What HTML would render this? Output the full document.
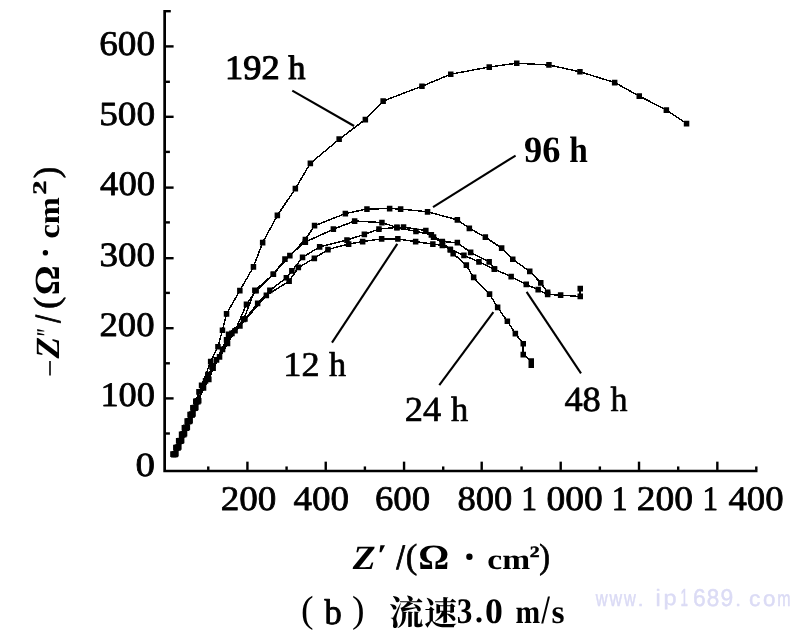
<!DOCTYPE html>
<html>
<head>
<meta charset="utf-8">
<title>Nyquist plot (b) 3.0 m/s</title>
<style>
html,body{margin:0;padding:0;background:#fff;}
body{width:800px;height:638px;overflow:hidden;font-family:"Liberation Serif",serif;}
svg{display:block;will-change:transform;}
svg text{font-kerning:none;white-space:pre;}
</style>
</head>
<body>
<svg width="800" height="638" viewBox="0 0 800 638" shape-rendering="geometricPrecision" text-rendering="geometricPrecision">
<rect width="800" height="638" fill="#fff"/>
<g stroke="#000" stroke-width="2.7" fill="none" stroke-linecap="butt">
<path d="M164.65 10.00 V471.00 H757.50"/>
</g>
<g stroke="#000" stroke-width="2.4" fill="none">
<path d="M165.70 433.50 h4.20"/>
<path d="M165.70 398.40 h7.90"/>
<path d="M165.70 363.30 h4.20"/>
<path d="M165.70 328.20 h7.90"/>
<path d="M165.70 292.90 h4.20"/>
<path d="M165.70 258.20 h7.90"/>
<path d="M165.70 222.40 h4.20"/>
<path d="M165.70 187.60 h7.90"/>
<path d="M165.70 151.90 h4.20"/>
<path d="M165.70 116.80 h7.90"/>
<path d="M165.70 81.80 h4.20"/>
<path d="M165.70 46.40 h7.90"/>
<path d="M165.70 11.20 h5.10"/>
<path d="M208.26 469.95 v-3.50"/>
<path d="M247.42 469.95 v-8.30"/>
<path d="M286.58 469.95 v-3.50"/>
<path d="M325.74 469.95 v-8.30"/>
<path d="M364.90 469.95 v-3.50"/>
<path d="M404.06 469.95 v-8.30"/>
<path d="M443.22 469.95 v-3.50"/>
<path d="M481.70 469.95 v-8.30"/>
<path d="M521.54 469.95 v-3.50"/>
<path d="M560.70 469.95 v-8.30"/>
<path d="M599.86 469.95 v-3.50"/>
<path d="M639.02 469.95 v-8.30"/>
<path d="M678.18 469.95 v-3.50"/>
<path d="M717.34 469.95 v-8.30"/>
<path d="M756.30 469.95 v-3.50"/>
</g>
<text transform="matrix(0.37211 0 0 0.34677 99.201 55.161)" font-family="Liberation Serif" font-size="100" stroke="#000" stroke-width="2.226" stroke-linejoin="round" fill="#000" >600</text>
<text transform="matrix(0.37256 0 0 0.33788 99.135 124.770)" font-family="Liberation Serif" font-size="100" stroke="#000" stroke-width="2.252" stroke-linejoin="round" fill="#000" >500</text>
<text transform="matrix(0.36606 0 0 0.34380 100.085 195.464)" font-family="Liberation Serif" font-size="100" stroke="#000" stroke-width="2.254" stroke-linejoin="round" fill="#000" >400</text>
<text transform="matrix(0.36986 0 0 0.33936 99.530 266.469)" font-family="Liberation Serif" font-size="100" stroke="#000" stroke-width="2.256" stroke-linejoin="round" fill="#000" >300</text>
<text transform="matrix(0.36743 0 0 0.34232 99.485 335.766)" font-family="Liberation Serif" font-size="100" stroke="#000" stroke-width="2.254" stroke-linejoin="round" fill="#000" >200</text>
<text transform="matrix(0.36317 0 0 0.34380 100.408 406.064)" font-family="Liberation Serif" font-size="100" stroke="#000" stroke-width="2.263" stroke-linejoin="round" fill="#000" >100</text>
<text transform="matrix(0.38931 0 0 0.33788 135.517 476.270)" font-family="Liberation Serif" font-size="100" stroke="#000" stroke-width="2.200" stroke-linejoin="round" fill="#000" >0</text>
<text transform="matrix(0.37095 0 0 0.34380 220.770 510.064)" font-family="Liberation Serif" font-size="100" stroke="#000" stroke-width="2.239" stroke-linejoin="round" fill="#000" >200</text>
<text transform="matrix(0.37057 0 0 0.34380 293.426 510.064)" font-family="Liberation Serif" font-size="100" stroke="#000" stroke-width="2.240" stroke-linejoin="round" fill="#000" >400</text>
<text transform="matrix(0.36788 0 0 0.34380 374.919 510.064)" font-family="Liberation Serif" font-size="100" stroke="#000" stroke-width="2.248" stroke-linejoin="round" fill="#000" >600</text>
<text transform="matrix(0.36556 0 0 0.34380 457.408 510.064)" font-family="Liberation Serif" font-size="100" stroke="#000" stroke-width="2.256" stroke-linejoin="round" fill="#000" >800</text>
<text transform="matrix(0.31530 0 0 0.34386 521.129 509.900)" font-family="Liberation Serif" font-size="100" stroke="#000" stroke-width="2.427" stroke-linejoin="round" fill="#000" >1</text>
<text transform="matrix(0.37540 0 0 0.34380 546.470 510.064)" font-family="Liberation Serif" font-size="100" stroke="#000" stroke-width="2.225" stroke-linejoin="round" fill="#000" >000</text>
<text transform="matrix(0.31530 0 0 0.34386 611.629 509.900)" font-family="Liberation Serif" font-size="100" stroke="#000" stroke-width="2.427" stroke-linejoin="round" fill="#000" >1</text>
<text transform="matrix(0.37518 0 0 0.34380 636.751 510.064)" font-family="Liberation Serif" font-size="100" stroke="#000" stroke-width="2.225" stroke-linejoin="round" fill="#000" >200</text>
<text transform="matrix(0.31103 0 0 0.34386 702.416 509.900)" font-family="Liberation Serif" font-size="100" stroke="#000" stroke-width="2.443" stroke-linejoin="round" fill="#000" >1</text>
<text transform="matrix(0.36710 0 0 0.34380 728.433 510.064)" font-family="Liberation Serif" font-size="100" stroke="#000" stroke-width="2.251" stroke-linejoin="round" fill="#000" >400</text>
<text transform="matrix(0.36295 0 0 0.34158 225.110 79.416)" font-family="Liberation Serif" font-size="100" stroke="#000" stroke-width="3.123" stroke-linejoin="round" fill="#000" >192</text>
<text transform="matrix(0.34378 0 0 0.34013 288.314 79.450)" font-family="Liberation Serif" font-size="100" stroke="#000" stroke-width="3.217" stroke-linejoin="round" fill="#000" >h</text>
<text transform="matrix(0.36465 0 0 0.37209 524.003 162.137)" font-family="Liberation Serif" font-size="100" font-weight="bold" fill="#000" >96</text>
<text transform="matrix(0.33423 0 0 0.36607 569.168 161.900)" font-family="Liberation Serif" font-size="100" font-weight="bold" fill="#000" >h</text>
<text transform="matrix(0.36292 0 0 0.34737 283.360 376.150)" font-family="Liberation Serif" font-size="100" stroke="#000" stroke-width="1.971" stroke-linejoin="round" fill="#000" >12</text>
<text transform="matrix(0.34168 0 0 0.34590 329.016 376.150)" font-family="Liberation Serif" font-size="100" stroke="#000" stroke-width="2.036" stroke-linejoin="round" fill="#000" >h</text>
<text transform="matrix(0.36473 0 0 0.35191 404.747 421.150)" font-family="Liberation Serif" font-size="100" stroke="#000" stroke-width="1.954" stroke-linejoin="round" fill="#000" >24</text>
<text transform="matrix(0.34378 0 0 0.35022 451.014 421.150)" font-family="Liberation Serif" font-size="100" stroke="#000" stroke-width="2.017" stroke-linejoin="round" fill="#000" >h</text>
<text transform="matrix(0.36397 0 0 0.35269 564.389 410.706)" font-family="Liberation Serif" font-size="100" stroke="#000" stroke-width="1.953" stroke-linejoin="round" fill="#000" >48</text>
<text transform="matrix(0.33959 0 0 0.35022 610.618 410.650)" font-family="Liberation Serif" font-size="100" stroke="#000" stroke-width="2.030" stroke-linejoin="round" fill="#000" >h</text>
<g stroke="#000" stroke-width="2.1" fill="none" stroke-linecap="butt">
<path d="M292.30 90.60 L354.10 126.00"/>
<path d="M515.60 155.60 L433.00 207.10"/>
<path d="M397.30 243.80 L332.00 342.60"/>
<path d="M493.40 312.20 L439.30 385.10"/>
<path d="M526.60 291.80 L581.00 373.30"/>
</g>
<g stroke="#000" stroke-width="1.45" fill="none" stroke-linejoin="round" shape-rendering="crispEdges">
<path d="M173.0 454.2 L175.8 447.6 L178.7 441.0 L181.5 434.4 L184.4 427.8 L187.2 421.2 L190.0 414.6 L192.9 408.0 L195.7 401.4 L201.6 385.5 L210.7 361.6 L218.0 346.8 L222.4 330.3 L226.5 314.0 L239.8 290.7 L253.4 267.0 L262.7 242.5 L277.4 215.4 L295.3 188.7 L310.3 163.3 L339.2 139.2 L365.3 119.5 L383.2 101.0 L422.0 86.2 L450.8 74.2 L489.2 67.0 L516.8 63.2 L549.0 65.0 L580.0 71.8 L614.6 82.5 L639.2 96.0 L666.4 110.0 L686.5 123.5"/>
<path d="M173.8 454.7 L176.6 448.1 L179.4 441.5 L182.3 434.9 L185.1 428.3 L187.9 421.7 L190.8 415.1 L193.6 408.5 L196.5 401.9 L199.0 392.0 L207.8 374.6 L219.6 357.0 L228.5 334.5 L243.6 319.5 L254.8 290.5 L273.3 274.3 L289.8 255.5 L305.4 239.5 L314.5 225.7 L345.4 213.6 L367.0 209.0 L389.6 208.6 L400.6 209.0 L427.5 211.8 L457.4 219.8 L469.4 228.3 L485.3 237.2 L501.7 248.1 L512.7 259.3 L529.8 271.5 L540.8 282.9 L547.6 292.4"/>
<path d="M174.5 453.8 L177.3 447.2 L180.2 440.6 L183.0 434.0 L185.9 427.4 L188.7 420.8 L191.5 414.2 L194.4 407.6 L197.2 401.0 L208.8 379.5 L213.2 368.3 L227.6 343.5 L235.1 330.8 L246.4 304.4 L256.1 290.8 L273.3 274.3 L285.0 259.2 L305.4 242.0 L333.4 229.2 L354.6 221.0 L382.0 222.6 L397.0 227.5 L416.0 231.4 L431.4 234.8 L442.3 241.5 L457.3 242.7 L470.7 252.4 L489.2 262.0 L494.5 269.2 L511.1 276.6 L526.2 284.5 L538.1 289.7 L547.6 294.5 L560.6 295.1 L580.2 296.5 L580.2 288.6"/>
<path d="M175.2 454.5 L178.1 447.9 L180.9 441.3 L183.8 434.7 L186.6 428.1 L189.4 421.5 L192.3 414.9 L195.1 408.3 L198.0 401.7 L203.5 388.0 L212.0 367.0 L222.5 349.5 L232.0 333.5 L245.0 319.0 L257.7 303.5 L269.9 290.4 L286.4 277.8 L291.9 270.9 L302.5 257.4 L319.6 246.9 L347.0 240.0 L364.4 234.4 L379.0 229.0 L397.0 227.4 L403.5 227.2 L425.8 230.5 L433.5 237.0 L442.5 243.0 L450.3 249.5 L453.2 253.6 L466.3 265.2 L473.6 277.5 L489.5 294.1 L497.7 307.5 L507.3 321.3 L515.4 333.6 L523.2 343.8 L523.2 354.6 L531.3 361.1 L531.3 365.2"/>
<path d="M176.0 453.6 L178.8 447.0 L181.7 440.4 L184.5 433.8 L187.4 427.2 L190.2 420.6 L193.0 414.0 L195.9 407.4 L198.7 400.8 L205.5 381.0 L216.5 360.0 L226.5 340.0 L240.0 326.0 L266.3 295.5 L289.1 281.2 L298.4 267.5 L314.3 258.3 L328.0 249.5 L348.6 244.0 L362.6 241.6 L381.6 238.9 L397.8 238.9 L415.6 241.7 L432.9 244.1 L442.4 245.4 L450.3 249.5 L464.0 255.3 L479.0 262.0 L494.3 269.2"/>
</g>
<g fill="#000">
<path d="M170.2 451.3h5.5v5.7h-5.5zM173.1 444.7h5.5v5.7h-5.5zM175.9 438.1h5.5v5.7h-5.5zM178.8 431.5h5.5v5.7h-5.5zM181.6 424.9h5.5v5.7h-5.5zM184.4 418.3h5.5v5.7h-5.5zM187.3 411.7h5.5v5.7h-5.5zM190.1 405.1h5.5v5.7h-5.5zM193.0 398.5h5.5v5.7h-5.5zM198.8 382.6h5.5v5.7h-5.5zM207.9 358.8h5.5v5.7h-5.5zM215.2 343.9h5.5v5.7h-5.5zM219.7 327.4h5.5v5.7h-5.5zM223.8 311.1h5.5v5.7h-5.5zM237.1 287.8h5.5v5.7h-5.5zM250.7 264.1h5.5v5.7h-5.5zM259.9 239.7h5.5v5.7h-5.5zM274.6 212.6h5.5v5.7h-5.5zM292.6 185.8h5.5v5.7h-5.5zM307.6 160.5h5.5v5.7h-5.5zM336.4 136.3h5.5v5.7h-5.5zM362.6 116.7h5.5v5.7h-5.5zM380.4 98.2h5.5v5.7h-5.5zM419.2 83.4h5.5v5.7h-5.5zM448.0 71.4h5.5v5.7h-5.5zM486.5 64.2h5.5v5.7h-5.5zM514.0 60.4h5.5v5.7h-5.5zM546.2 62.1h5.5v5.7h-5.5zM577.2 68.9h5.5v5.7h-5.5zM611.9 79.7h5.5v5.7h-5.5zM636.5 93.2h5.5v5.7h-5.5zM663.6 107.2h5.5v5.7h-5.5zM683.8 120.7h5.5v5.7h-5.5z"/>
<path d="M171.0 451.8h5.5v5.7h-5.5zM173.8 445.2h5.5v5.7h-5.5zM176.7 438.6h5.5v5.7h-5.5zM179.5 432.0h5.5v5.7h-5.5zM182.4 425.4h5.5v5.7h-5.5zM185.2 418.8h5.5v5.7h-5.5zM188.0 412.2h5.5v5.7h-5.5zM190.9 405.6h5.5v5.7h-5.5zM193.7 399.0h5.5v5.7h-5.5zM196.2 389.1h5.5v5.7h-5.5zM205.1 371.8h5.5v5.7h-5.5zM216.8 354.1h5.5v5.7h-5.5zM225.8 331.6h5.5v5.7h-5.5zM240.8 316.6h5.5v5.7h-5.5zM252.1 287.6h5.5v5.7h-5.5zM270.6 271.4h5.5v5.7h-5.5zM287.1 252.7h5.5v5.7h-5.5zM302.6 236.7h5.5v5.7h-5.5zM311.8 222.8h5.5v5.7h-5.5zM342.6 210.8h5.5v5.7h-5.5zM364.2 206.2h5.5v5.7h-5.5zM386.9 205.8h5.5v5.7h-5.5zM397.9 206.2h5.5v5.7h-5.5zM424.8 209.0h5.5v5.7h-5.5zM454.6 217.0h5.5v5.7h-5.5zM466.6 225.5h5.5v5.7h-5.5zM482.6 234.3h5.5v5.7h-5.5zM498.9 245.2h5.5v5.7h-5.5zM510.0 256.4h5.5v5.7h-5.5zM527.0 268.6h5.5v5.7h-5.5zM538.0 280.0h5.5v5.7h-5.5zM544.9 289.5h5.5v5.7h-5.5z"/>
<path d="M171.8 450.9h5.5v5.7h-5.5zM174.6 444.3h5.5v5.7h-5.5zM177.4 437.7h5.5v5.7h-5.5zM180.3 431.1h5.5v5.7h-5.5zM183.1 424.5h5.5v5.7h-5.5zM185.9 417.9h5.5v5.7h-5.5zM188.8 411.3h5.5v5.7h-5.5zM191.6 404.7h5.5v5.7h-5.5zM194.5 398.1h5.5v5.7h-5.5zM206.1 376.6h5.5v5.7h-5.5zM210.4 365.4h5.5v5.7h-5.5zM224.8 340.6h5.5v5.7h-5.5zM232.3 327.9h5.5v5.7h-5.5zM243.7 301.5h5.5v5.7h-5.5zM253.4 287.9h5.5v5.7h-5.5zM270.6 271.4h5.5v5.7h-5.5zM282.2 256.3h5.5v5.7h-5.5zM302.6 239.2h5.5v5.7h-5.5zM330.6 226.3h5.5v5.7h-5.5zM351.9 218.2h5.5v5.7h-5.5zM379.2 219.8h5.5v5.7h-5.5zM394.2 224.7h5.5v5.7h-5.5zM413.2 228.6h5.5v5.7h-5.5zM428.6 232.0h5.5v5.7h-5.5zM439.6 238.7h5.5v5.7h-5.5zM454.6 239.8h5.5v5.7h-5.5zM467.9 249.6h5.5v5.7h-5.5zM486.4 259.1h5.5v5.7h-5.5zM491.8 266.3h5.5v5.7h-5.5zM508.4 273.8h5.5v5.7h-5.5zM523.5 281.6h5.5v5.7h-5.5zM535.4 286.8h5.5v5.7h-5.5zM544.9 291.6h5.5v5.7h-5.5zM557.9 292.2h5.5v5.7h-5.5zM577.5 293.6h5.5v5.7h-5.5zM577.5 285.8h5.5v5.7h-5.5z"/>
<path d="M172.5 451.6h5.5v5.7h-5.5zM175.3 445.0h5.5v5.7h-5.5zM178.2 438.4h5.5v5.7h-5.5zM181.0 431.8h5.5v5.7h-5.5zM183.9 425.2h5.5v5.7h-5.5zM186.7 418.6h5.5v5.7h-5.5zM189.5 412.0h5.5v5.7h-5.5zM192.4 405.4h5.5v5.7h-5.5zM195.2 398.8h5.5v5.7h-5.5zM200.8 385.1h5.5v5.7h-5.5zM209.2 364.1h5.5v5.7h-5.5zM219.8 346.6h5.5v5.7h-5.5zM229.2 330.6h5.5v5.7h-5.5zM242.2 316.1h5.5v5.7h-5.5zM254.9 300.6h5.5v5.7h-5.5zM267.1 287.5h5.5v5.7h-5.5zM283.6 274.9h5.5v5.7h-5.5zM289.1 268.0h5.5v5.7h-5.5zM299.8 254.5h5.5v5.7h-5.5zM316.9 244.1h5.5v5.7h-5.5zM344.2 237.2h5.5v5.7h-5.5zM361.6 231.6h5.5v5.7h-5.5zM376.2 226.2h5.5v5.7h-5.5zM394.2 224.6h5.5v5.7h-5.5zM400.8 224.3h5.5v5.7h-5.5zM423.1 227.7h5.5v5.7h-5.5zM430.8 234.2h5.5v5.7h-5.5zM439.8 240.2h5.5v5.7h-5.5zM447.6 246.7h5.5v5.7h-5.5zM450.4 250.8h5.5v5.7h-5.5zM463.6 262.3h5.5v5.7h-5.5zM470.9 274.6h5.5v5.7h-5.5zM486.8 291.2h5.5v5.7h-5.5zM494.9 304.6h5.5v5.7h-5.5zM504.6 318.4h5.5v5.7h-5.5zM512.6 330.8h5.5v5.7h-5.5zM520.5 340.9h5.5v5.7h-5.5zM520.5 351.8h5.5v5.7h-5.5zM528.5 358.2h5.5v5.7h-5.5zM528.5 362.3h5.5v5.7h-5.5z"/>
<path d="M173.2 450.7h5.5v5.7h-5.5zM176.1 444.1h5.5v5.7h-5.5zM178.9 437.5h5.5v5.7h-5.5zM181.8 430.9h5.5v5.7h-5.5zM184.6 424.3h5.5v5.7h-5.5zM187.4 417.7h5.5v5.7h-5.5zM190.3 411.1h5.5v5.7h-5.5zM193.1 404.5h5.5v5.7h-5.5zM196.0 397.9h5.5v5.7h-5.5zM202.8 378.1h5.5v5.7h-5.5zM213.8 357.1h5.5v5.7h-5.5zM223.8 337.1h5.5v5.7h-5.5zM237.2 323.1h5.5v5.7h-5.5zM263.6 292.6h5.5v5.7h-5.5zM286.4 278.3h5.5v5.7h-5.5zM295.6 264.6h5.5v5.7h-5.5zM311.6 255.5h5.5v5.7h-5.5zM325.2 246.7h5.5v5.7h-5.5zM345.9 241.2h5.5v5.7h-5.5zM359.9 238.8h5.5v5.7h-5.5zM378.9 236.1h5.5v5.7h-5.5zM395.1 236.1h5.5v5.7h-5.5zM412.9 238.8h5.5v5.7h-5.5zM430.1 241.2h5.5v5.7h-5.5zM439.6 242.6h5.5v5.7h-5.5zM447.6 246.7h5.5v5.7h-5.5zM461.2 252.5h5.5v5.7h-5.5zM476.2 259.1h5.5v5.7h-5.5zM491.6 266.3h5.5v5.7h-5.5z"/>
</g>
<text transform="matrix(0.37422 0 0 0.34057 352.691 569.000)" font-family="Liberation Serif" font-size="100" font-weight="bold" font-style="italic" fill="#000" >Z</text>
<text transform="matrix(0.36691 0 0 0.30230 376.408 565.094)" font-family="Liberation Serif" font-size="100" font-weight="bold" font-style="italic" fill="#000" >′</text>
<text transform="matrix(0.29545 0 0 0.35904 396.589 568.649)" font-family="Liberation Serif" font-size="100" font-weight="bold" stroke="#000" stroke-width="2.445" stroke-linejoin="round" fill="#000" >/</text>
<text transform="matrix(0.34652 0 0 0.34850 405.727 568.431)" font-family="Liberation Serif" font-size="100" stroke="#000" stroke-width="2.014" stroke-linejoin="round" fill="#000" >(</text>
<text transform="matrix(0.38681 0 0 0.35493 418.143 568.800)" font-family="Liberation Serif" font-size="100" font-weight="bold" fill="#000" >Ω</text>
<circle cx="469.4" cy="556.8" r="3.2" fill="#000"/>
<text transform="matrix(0.33453 0 0 0.28930 487.357 569.032)" font-family="Liberation Serif" font-size="100" font-weight="bold" fill="#000" >cm</text>
<text transform="matrix(0.19757 0 0 0.15858 529.820 557.450)" font-family="Liberation Serif" font-size="100" font-weight="bold" stroke="#000" stroke-width="2.808" stroke-linejoin="round" fill="#000" >2</text>
<text transform="matrix(0.32316 0 0 0.34850 539.309 568.431)" font-family="Liberation Serif" font-size="100" stroke="#000" stroke-width="2.084" stroke-linejoin="round" fill="#000" >)</text>
<g transform="translate(58.4 375.6) rotate(-90)">
<path d="M0 -8.4 H14.5" stroke="#000" stroke-width="1.6" fill="none"/>
<text transform="matrix(0.35211 0 0 0.33904 16.986 0.600)" font-family="Liberation Serif" font-size="100" font-weight="bold" font-style="italic" fill="#000" >Z</text>
<text transform="matrix(0.17821 0 0 0.30230 38.525 -1.806)" font-family="Liberation Serif" font-size="100" font-weight="bold" font-style="italic" fill="#000" >″</text>
<text transform="matrix(0.27530 0 0 0.36801 52.769 1.241)" font-family="Liberation Serif" font-size="100" font-weight="bold" stroke="#000" stroke-width="2.487" stroke-linejoin="round" fill="#000" >/</text>
<text transform="matrix(0.36989 0 0 0.35181 66.525 -0.440)" font-family="Liberation Serif" font-size="100" stroke="#000" stroke-width="1.940" stroke-linejoin="round" fill="#000" >(</text>
<text transform="matrix(0.37275 0 0 0.35342 80.307 0.300)" font-family="Liberation Serif" font-size="100" font-weight="bold" fill="#000" >Ω</text>
<circle cx="122.8" cy="-13.0" r="2.7" fill="#000"/>
<text transform="matrix(0.32393 0 0 0.29971 136.993 0.122)" font-family="Liberation Serif" font-size="100" font-weight="bold" fill="#000" >cm</text>
<text transform="matrix(0.28431 0 0 0.19332 180.856 -12.150)" font-family="Liberation Serif" font-size="100" font-weight="bold" stroke="#000" stroke-width="2.094" stroke-linejoin="round" fill="#000" >2</text>
<text transform="matrix(0.34652 0 0 0.35181 197.333 -0.440)" font-family="Liberation Serif" font-size="100" stroke="#000" stroke-width="2.005" stroke-linejoin="round" fill="#000" >)</text>
</g>
<text x="301" y="621.6" font-family="'Liberation Serif', 'Noto Serif CJK SC', serif" font-size="37.7" fill="#000">(</text>
<text x="352" y="621.6" font-family="'Liberation Serif', 'Noto Serif CJK SC', serif" font-size="37.7" fill="#000">)</text>
<text transform="matrix(0.34422 0 0 0.35673 324.550 624.202)" font-family="Liberation Serif" font-size="100" stroke="#000" stroke-width="2.568" stroke-linejoin="round" fill="#000" >b</text>
<text x="388.96" y="624.57" font-family="'Liberation Serif', 'Noto Serif CJK SC', serif" font-size="34.6" font-weight="bold" fill="#000">流</text>
<text x="424.28" y="624.66" font-family="'Liberation Serif', 'Noto Serif CJK SC', serif" font-size="32.9" font-weight="bold" fill="#000">速</text>
<text transform="matrix(0.31292 0 0 0.35944 456.823 622.549)" font-family="Liberation Serif" font-size="100" font-weight="bold" fill="#000" >3</text>
<text transform="matrix(0.32077 0 0 0.32694 474.890 622.437)" font-family="Liberation Serif" font-size="100" font-weight="bold" fill="#000" >.</text>
<text transform="matrix(0.35746 0 0 0.35788 484.889 622.551)" font-family="Liberation Serif" font-size="100" font-weight="bold" fill="#000" >0</text>
<text transform="matrix(0.29592 0 0 0.33320 515.455 622.500)" font-family="Liberation Serif" font-size="100" font-weight="bold" fill="#000" >m</text>
<text transform="matrix(0.29377 0 0 0.40317 541.537 622.806)" font-family="Liberation Serif" font-size="100" font-weight="bold" fill="#000" >/</text>
<text transform="matrix(0.33635 0 0 0.33475 551.482 622.573)" font-family="Liberation Serif" font-size="100" font-weight="bold" fill="#000" >s</text>
<text transform="matrix(0.16458 0 0 0.22051 595.749 605.625)" font-family="Liberation Sans" font-size="100" stroke="#dbdbf5" stroke-width="2.337" stroke-linejoin="round" fill="#dbdbf5" >w</text>
<text transform="matrix(0.17354 0 0 0.22051 609.500 605.625)" font-family="Liberation Sans" font-size="100" stroke="#dbdbf5" stroke-width="2.284" stroke-linejoin="round" fill="#dbdbf5" >w</text>
<text transform="matrix(0.16321 0 0 0.22051 623.949 605.625)" font-family="Liberation Sans" font-size="100" stroke="#dbdbf5" stroke-width="2.345" stroke-linejoin="round" fill="#dbdbf5" >w</text>
<text transform="matrix(0.20480 0 0 0.18703 637.755 605.625)" font-family="Liberation Sans" font-size="100" stroke="#dbdbf5" stroke-width="2.297" stroke-linejoin="round" fill="#dbdbf5" >.</text>
<text transform="matrix(0.23324 0 0 0.23668 655.465 605.625)" font-family="Liberation Sans" font-size="100" stroke="#dbdbf5" stroke-width="1.915" stroke-linejoin="round" fill="#dbdbf5" >i</text>
<text transform="matrix(0.23460 0 0 0.21003 663.613 605.016)" font-family="Liberation Sans" font-size="100" stroke="#dbdbf5" stroke-width="2.024" stroke-linejoin="round" fill="#dbdbf5" >p</text>
<text transform="matrix(0.13336 0 0 0.24564 680.409 605.625)" font-family="Liberation Sans" font-size="100" stroke="#dbdbf5" stroke-width="2.375" stroke-linejoin="round" fill="#dbdbf5" >1</text>
<text transform="matrix(0.22864 0 0 0.24223 692.914 605.538)" font-family="Liberation Sans" font-size="100" stroke="#dbdbf5" stroke-width="1.911" stroke-linejoin="round" fill="#dbdbf5" >6</text>
<text transform="matrix(0.22483 0 0 0.24223 706.848 605.538)" font-family="Liberation Sans" font-size="100" stroke="#dbdbf5" stroke-width="1.927" stroke-linejoin="round" fill="#dbdbf5" >8</text>
<text transform="matrix(0.22840 0 0 0.24223 720.454 605.538)" font-family="Liberation Sans" font-size="100" stroke="#dbdbf5" stroke-width="1.912" stroke-linejoin="round" fill="#dbdbf5" >9</text>
<text transform="matrix(0.20480 0 0 0.18703 735.255 605.625)" font-family="Liberation Sans" font-size="100" stroke="#dbdbf5" stroke-width="2.297" stroke-linejoin="round" fill="#dbdbf5" >.</text>
<text transform="matrix(0.22846 0 0 0.21812 749.055 605.562)" font-family="Liberation Sans" font-size="100" stroke="#dbdbf5" stroke-width="2.015" stroke-linejoin="round" fill="#dbdbf5" >c</text>
<text transform="matrix(0.22344 0 0 0.21812 762.887 605.562)" font-family="Liberation Sans" font-size="100" stroke="#dbdbf5" stroke-width="2.038" stroke-linejoin="round" fill="#dbdbf5" >o</text>
<text transform="matrix(0.16056 0 0 0.21651 777.159 605.625)" font-family="Liberation Sans" font-size="100" stroke="#dbdbf5" stroke-width="2.387" stroke-linejoin="round" fill="#dbdbf5" >m</text>
</svg>
</body>
</html>
